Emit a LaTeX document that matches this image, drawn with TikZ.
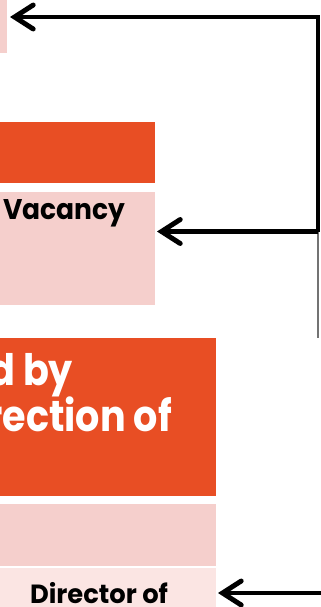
\documentclass[tikz,border=0pt]{standalone}
\usepackage{fontspec}
\setmainfont{Poppins}
\usetikzlibrary{arrows.meta}
\definecolor{orng}{HTML}{E84E24}
\definecolor{pnk}{HTML}{F5CFCC}
\definecolor{lpnk}{HTML}{FBE5E3}
\begin{document}
\begin{tikzpicture}[x=0.75pt,y=-0.75pt,
  box/.style={anchor=north west,inner sep=0pt,outer sep=0pt,draw=none},
  txt/.style={inner sep=0pt,outer sep=0pt},
  bigtxt/.style={txt,anchor=base east,text=white,font=\fontsize{32.5pt}{32.5pt}\selectfont\bfseries},
  conn/.style={line width=3.7pt,line join=miter,-{Straight Barb[length=14pt,width=18pt,line cap=round]}},
  thinline/.style={line width=1.5pt,draw=black!55}]
\useasboundingbox (0,0) rectangle (321,607);
\clip (0,0) rectangle (321,607);
% boxes
\node[box,fill=pnk,minimum width=5.25pt,minimum height=39.75pt] (b0) at (0,0) {};
\node[box,fill=orng,minimum width=116.25pt,minimum height=45.75pt] (o1) at (0,122) {};
\node[box,fill=pnk,minimum width=116.25pt,minimum height=84.75pt] (p1) at (0,192) {};
\node[box,fill=orng,minimum width=162pt,minimum height=118.5pt] (o2) at (0,338) {};
\node[box,fill=pnk,minimum width=162pt,minimum height=46.5pt] (p2) at (0,504) {};
\node[box,fill=lpnk,minimum width=162pt,minimum height=33pt] (p3) at (0,568) {};
% texts
\node[txt,anchor=base west] (t1) at (3,219.3) {\resizebox{91.5pt}{15pt}{\bfseries Vacancy}};
\node[bigtxt] (t2) at (73,385) {\scalebox{0.88}[1]{d by}};
\node[bigtxt] (t3) at (172,431.7) {\scalebox{0.88}[1]{rection of}};
\node[txt,anchor=base west] (t4) at (30,603.3) {\resizebox{103.5pt}{15.8pt}{\bfseries Director of}};
% connectors
\coordinate (c1) at (318,17);
\coordinate (c2) at (318,231.5);
\coordinate (c3) at (318,338);
\coordinate (c4) at (330,593);
\draw[thinline] (c2) -- (c3);
\draw[conn] (c2) -- (c1) -- ([xshift=2.25pt]b0.east |- c1);
\draw[conn] (c2) -- ([xshift=1.5pt]p1.east |- c2);
\draw[conn] (c4) -- ([xshift=1.5pt]p3.east |- c4);
\end{tikzpicture}
\end{document}
